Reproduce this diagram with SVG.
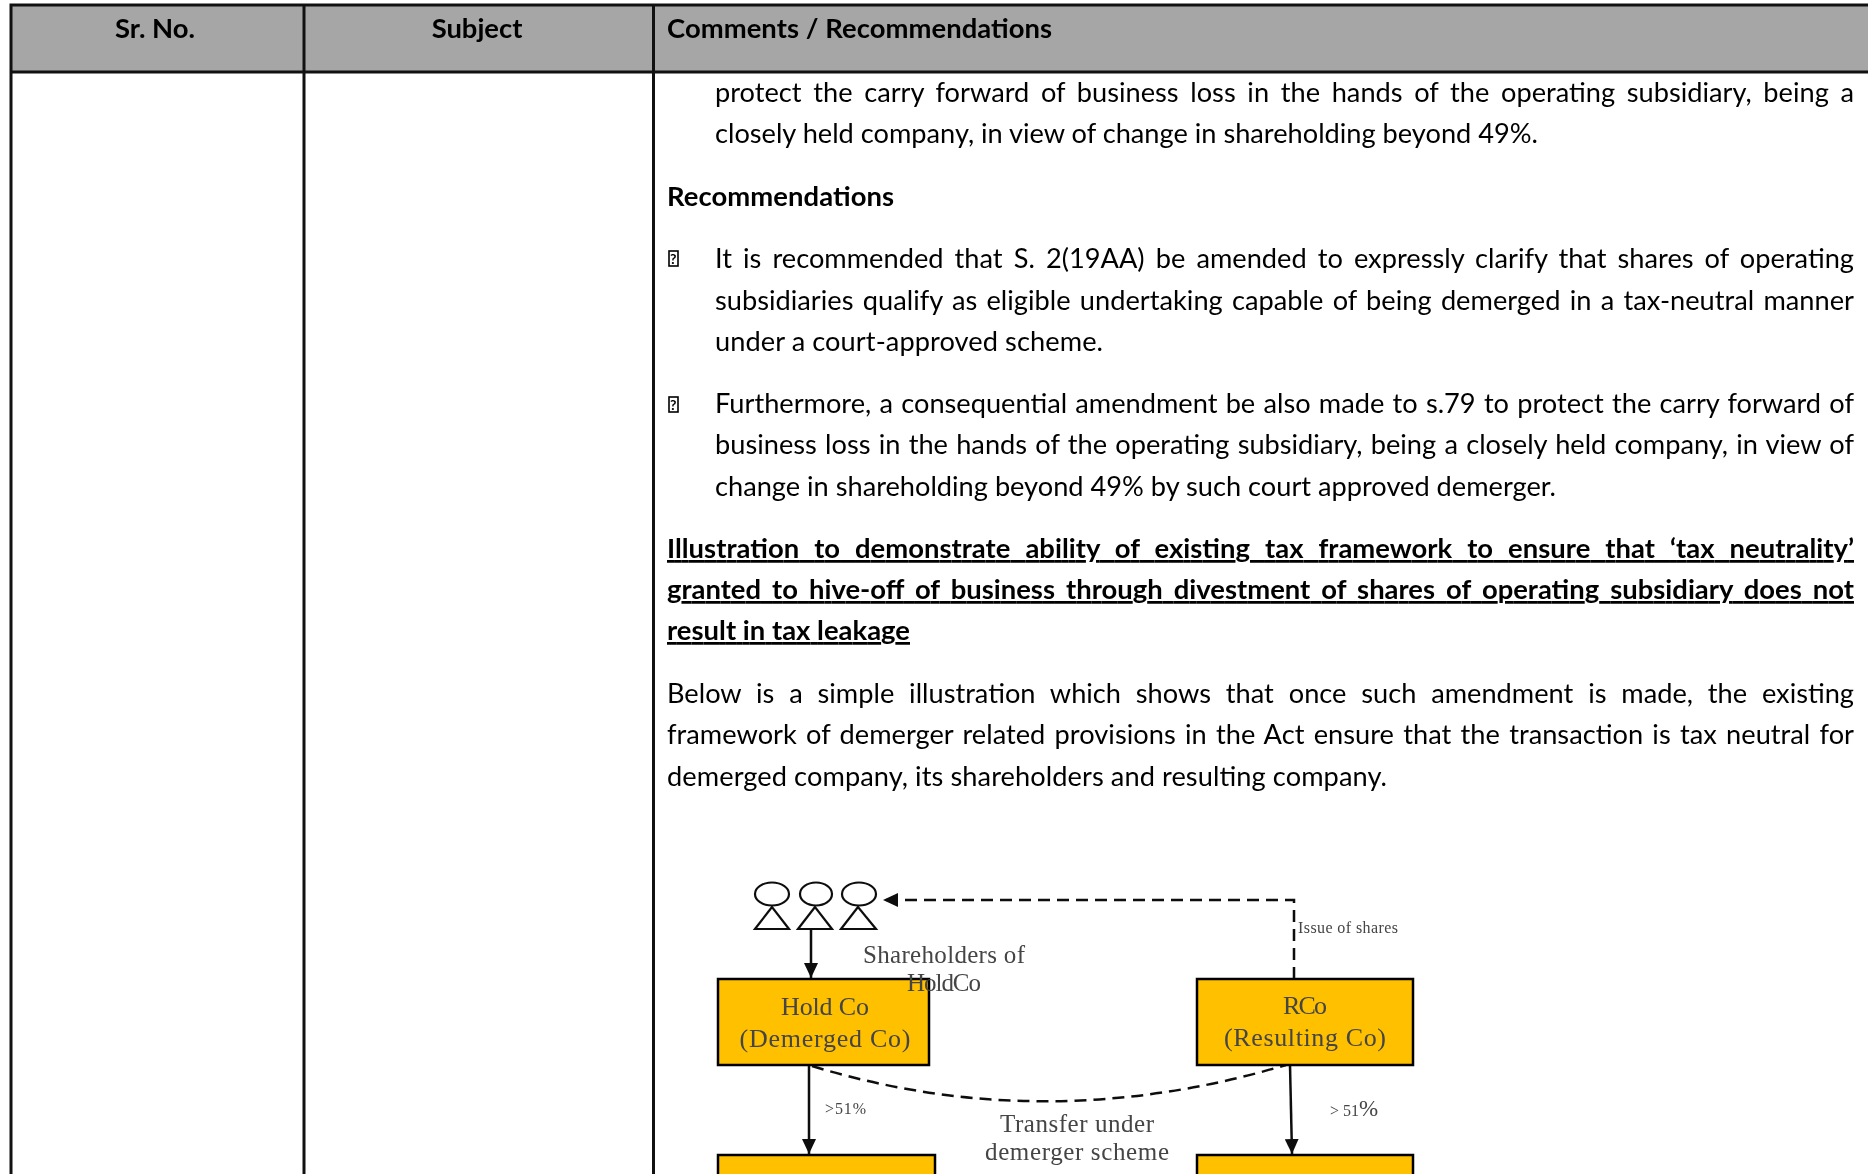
<svg xmlns="http://www.w3.org/2000/svg" width="1868" height="1174" viewBox="0 0 1868 1174">
<style>
text{font-family:"Lato","Liberation Sans",sans-serif;font-size:27.2px;fill:#000}
.b{font-weight:700;font-size:27.4px}.c{text-anchor:middle}.u{text-decoration:underline}
.q{font-size:14px;font-weight:700}
.bx{fill:none;stroke:#000;stroke-width:1.6}
.d text{font-family:"Liberation Serif",serif;fill:#444}
.d .box{fill:#ffc000;stroke:#000;stroke-width:2.5}
.d .p{fill:#fff;stroke:#111;stroke-width:2.2}
.d .l{fill:none;stroke:#111;stroke-width:2.5}
.d .da{stroke-dasharray:12 7}
</style>
<defs>
<marker id="a" viewBox="0 0 15 14" refX="15" refY="7" markerWidth="15" markerHeight="14" markerUnits="userSpaceOnUse" orient="auto"><path d="M0 0L15 7L0 14z" fill="#111"/></marker>
<filter id="bl" x="-5%" y="-5%" width="110%" height="110%"><feGaussianBlur stdDeviation="0.7"/></filter>
<filter id="bs" x="-2%" y="-2%" width="104%" height="104%"><feGaussianBlur stdDeviation="0.3"/></filter>
</defs>
<rect width="1868" height="1174" fill="#fff"/>
<g id="table">
<rect x="11" y="5" width="1860" height="67" fill="#a6a6a6"/>
<path d="M1868 5H11V1174M11 72H1868M304 5V1174M653.500 5V1174" fill="none" stroke="#111" stroke-width="3"/>
</g>
<g filter="url(#bs)">
<g id="header">
<text class="b c" x="155" y="38">Sr. No.</text>
<text class="b c" x="477" y="38">Subject</text>
<text class="b" x="667" y="38" textLength="385">Comments / Recommendations</text>
</g>
<g id="body">
<text x="715" y="102" word-spacing="4.7" textLength="1139">protect the carry forward of business loss in the hands of the operating subsidiary, being a</text>
<text x="715" y="143" textLength="823">closely held company, in view of change in shareholding beyond 49%.</text>
<text class="b" x="667" y="206" textLength="227">Recommendations</text>
<rect class="bx" x="669" y="251" width="9" height="15"/>
<text class="q" x="670" y="264">?</text>
<text x="715" y="268" word-spacing="4.1" textLength="1139">It is recommended that S. 2(19AA) be amended to expressly clarify that shares of operating</text>
<text x="715" y="310" word-spacing="2.3" textLength="1139">subsidiaries qualify as eligible undertaking capable of being demerged in a tax-neutral manner</text>
<text x="715" y="351" textLength="388">under a court-approved scheme.</text>
<rect class="bx" x="669" y="397" width="9" height="15"/>
<text class="q" x="670" y="410">?</text>
<text x="715" y="413" word-spacing="1.3" textLength="1139">Furthermore, a consequential amendment be also made to s.79 to protect the carry forward of</text>
<text x="715" y="454" word-spacing="1.3" textLength="1139">business loss in the hands of the operating subsidiary, being a closely held company, in view of</text>
<text x="715" y="496" textLength="841">change in shareholding beyond 49% by such court approved demerger.</text>
<text class="b u" x="667" y="558" word-spacing="8.3" textLength="1187">Illustration to demonstrate ability of existing tax framework to ensure that ‘tax neutrality’</text>
<text class="b u" x="667" y="599" word-spacing="4.4" textLength="1187">granted to hive-off of business through divestment of shares of operating subsidiary does not</text>
<text class="b u" x="667" y="640" textLength="243">result in tax leakage</text>
<text x="667" y="703" word-spacing="7.9" textLength="1187">Below is a simple illustration which shows that once such amendment is made, the existing</text>
<text x="667" y="744" word-spacing="2.25" textLength="1187">framework of demerger related provisions in the Act ensure that the transaction is tax neutral for</text>
<text x="667" y="786" textLength="720">demerged company, its shareholders and resulting company.</text>
</g>
</g>
<g class="d" filter="url(#bl)">
<g id="connectors">
<path class="l" d="M811 929V978" marker-end="url(#a)"/>
<path class="l da" d="M1294 979V900H883" marker-end="url(#a)"/>
<path class="l" d="M809 1065V1154" marker-end="url(#a)"/>
<path class="l" d="M1290 1065L1292 1154" marker-end="url(#a)"/>
<path class="l da" d="M812 1066Q1044 1137 1286 1065"/>
</g>
<g id="shareholders">
<ellipse class="p" cx="772" cy="894" rx="17" ry="11.5"/><path class="p" d="M772 907L755 929H789z"/>
<ellipse class="p" cx="816" cy="894" rx="16" ry="11.5"/><path class="p" d="M815 907L798 929H832z"/>
<ellipse class="p" cx="859" cy="894" rx="17" ry="11.5"/><path class="p" d="M858 907L841 929H876z"/>
</g>
<g id="holdco"><rect class="box" x="718" y="979" width="211" height="86"/>
<text class="c" x="825" y="1015" style="font-size:26px" textLength="88">Hold Co</text><text class="c" x="825" y="1047" style="font-size:26px" textLength="171">(Demerged Co)</text></g>
<g id="rco"><rect class="box" x="1197" y="979" width="216" height="86"/>
<text class="c" x="1305" y="1014" style="font-size:26px" textLength="44">RCo</text><text class="c" x="1305" y="1046" style="font-size:26px" textLength="162">(Resulting Co)</text></g>
<g id="sub1"><rect class="box" x="718" y="1155" width="217" height="40"/></g>
<g id="sub2"><rect class="box" x="1197" y="1155" width="216" height="40"/></g>
<g id="labels">
<text class="c" x="944" y="963" style="font-size:25px" textLength="162">Shareholders of</text>
<text class="c" x="944" y="991" style="font-size:25px" textLength="74">HoldCo</text>
<text x="1298" y="933" style="font-size:16px" textLength="100">Issue of shares</text>
<text x="825" y="1114" style="font-size:16px" textLength="41">&gt;51%</text>
<text x="1330" y="1116" style="font-size:16px">&gt; 51<tspan style="font-size:23px">%</tspan></text>
<text class="c" x="1077" y="1132" style="font-size:25px" textLength="154">Transfer under</text>
<text class="c" x="1077" y="1160" style="font-size:25px" textLength="184">demerger scheme</text>
</g>
</g>
</svg>
